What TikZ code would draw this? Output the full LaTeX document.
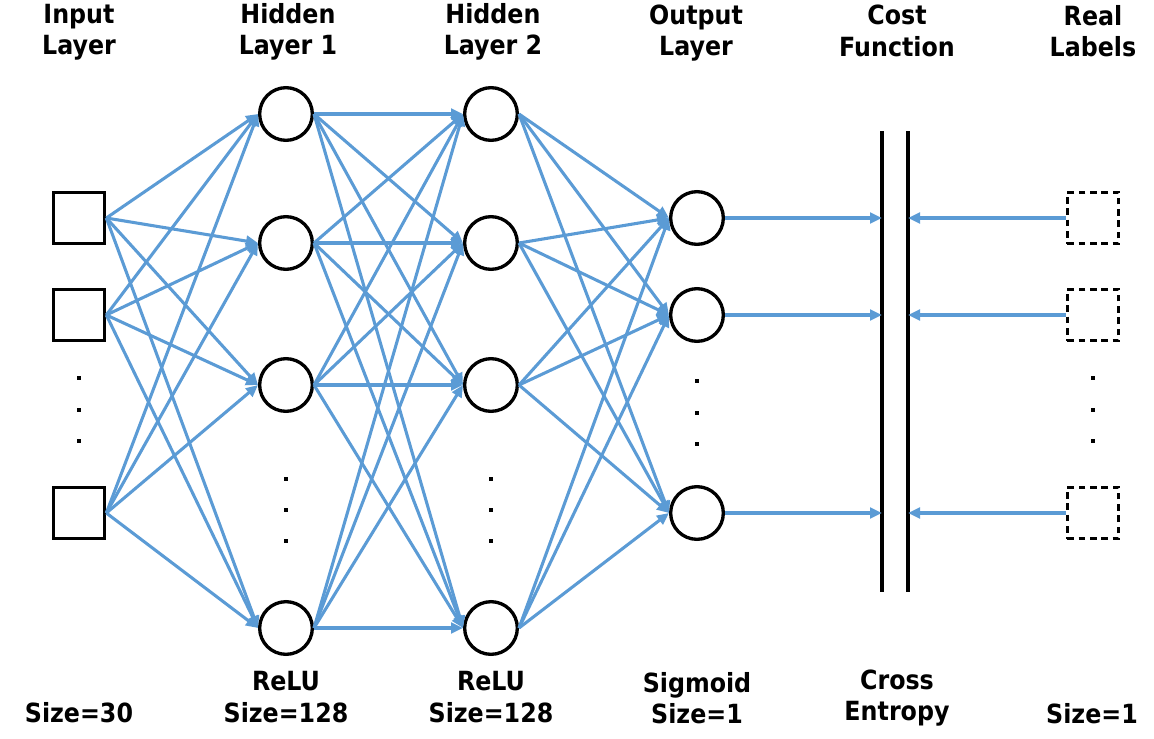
\documentclass[tikz,border=0pt]{standalone}
\usepackage{fontspec}
\setmainfont{DejaVu Sans Condensed}
\usetikzlibrary{arrows.meta}
\definecolor{linkblue}{RGB}{91,155,213}
\tikzset{
  neuron/.style={circle, draw, line width=2.5pt, minimum size=39.5pt, inner sep=0pt},
  unit/.style={rectangle, draw, line width=2.5pt, minimum size=38.5pt, inner sep=0pt},
  target/.style={unit, dash pattern=on 5pt off 3.5pt},
  link/.style={draw=linkblue, line width=2.3pt, -{Triangle[length=9pt,width=8pt]}},
  dotmark/.style={rectangle, fill, minimum size=3.6pt, inner sep=0pt},
  caption/.style={align=center, font=\bfseries\fontsize{19.8}{23.5}\selectfont},
}
\begin{document}
\begin{tikzpicture}[x=0.75pt,y=0.75pt,yscale=-1,xscale=1]
\useasboundingbox (0,0) rectangle (1154,739);

%Input Layer
\foreach \n/\y in {1/218,2/315,3/513}
  \node [unit] (in\n) at (79,\y) {};

%Hidden Layers
\foreach \n/\y in {1/114,2/243,3/385,4/628} {
  \node [neuron] (ha\n) at (286,\y) {};
  \node [neuron] (hb\n) at (491,\y) {};
}

%Output Layer and Real Labels
\foreach \n/\y in {1/218,2/315,3/513} {
  \node [neuron] (out\n) at (697,\y) {};
  \node [target] (lab\n) at (1093,\y) {};
}

%Dots
\foreach \n/\y in {1/378,2/410,3/441} {
  \node [dotmark] (indot\n) at (79,\y) {};
  \node [dotmark] (labdot\n) at (1093,\y) {};
}
\foreach \n/\y in {1/479,2/510,3/541} {
  \node [dotmark] (hadot\n) at (286,\y) {};
  \node [dotmark] (hbdot\n) at (491,\y) {};
}
\foreach \n/\y in {1/381,2/413,3/444}
  \node [dotmark] (outdot\n) at (697,\y) {};

%Cost Function bars
\coordinate (barL top) at (882,131);
\coordinate (barL bot) at (882,592);
\coordinate (barR top) at (908,131);
\coordinate (barR bot) at (908,592);
\draw [line width=2.6pt] (barL top) -- (barL bot);
\draw [line width=2.6pt] (barR top) -- (barR bot);

%Links
\foreach \i in {1,2,3}
  \foreach \j in {1,...,4}
    \draw [link] (in\i.east) -- (ha\j.west);
\foreach \i in {1,...,4}
  \foreach \j in {1,...,4}
    \draw [link] (ha\i.east) -- (hb\j.west);
\foreach \i in {1,...,4}
  \foreach \j in {1,2,3}
    \draw [link] (hb\i.east) -- (out\j.west);
\foreach \n in {1,2,3} {
  \draw [link] (out\n.east) -- (out\n.east -| barL top);
  \draw [link] (lab\n.west) -- (lab\n.west -| barR top);
}

% Text Node
\node [caption] (tin) at (79,32) {Input\\Layer};
% Text Node
\node [caption] (tha) at (288,32) {Hidden\\Layer 1};
% Text Node
\node [caption] (thb) at (493,32) {Hidden\\Layer 2};
% Text Node
\node [caption] (tout) at (696,33) {Output\\Layer};
% Text Node
\node [caption] (tcost) at (897,31) {Cost\\Function};
% Text Node
\node [caption] (tlab) at (1093,31) {Real\\Labels};
% Text Node
\node [caption] (bin) at (79,713) {Size=30};
% Text Node
\node [caption] (bha) at (286,697) {ReLU\\Size=128};
% Text Node
\node [caption] (bhb) at (491,697) {ReLU\\Size=128};
% Text Node
\node [caption] (bout) at (697,698) {Sigmoid\\Size=1};
% Text Node
\node [caption] (bcost) at (897,698) {Cross\\Entropy};
% Text Node
\node [caption] (blab) at (1092,714) {Size=1};

\end{tikzpicture}
\end{document}
